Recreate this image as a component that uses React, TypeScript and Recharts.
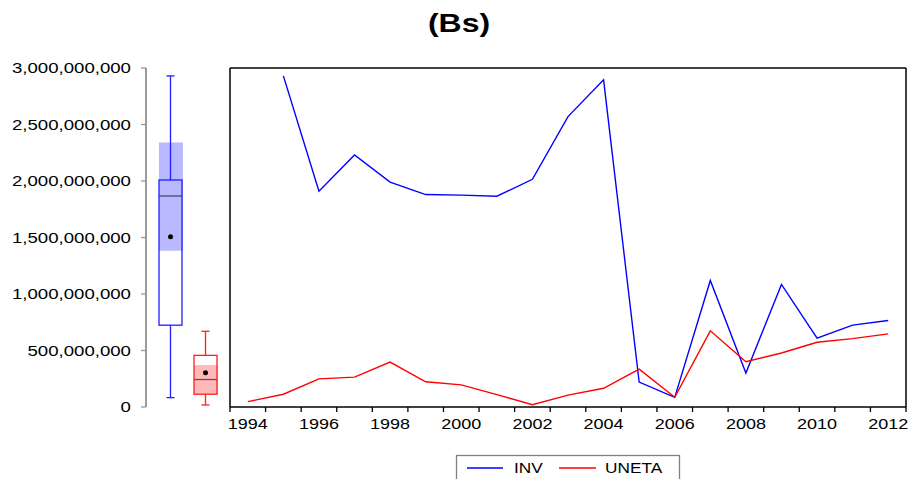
import { ComposedChart, LineChart, Line, Bar, XAxis, YAxis } from 'recharts';

// series (Bs)
const years = [1994, 1995, 1996, 1997, 1998, 1999, 2000, 2001, 2002, 2003, 2004, 2005, 2006, 2007, 2008, 2009, 2010, 2011, 2012];
const inv = [null, 2.93e9, 1.91e9, 2.23e9, 1.99e9, 1.88e9, 1.875e9, 1.865e9, 2.015e9, 2.57e9, 2.895e9, 0.22e9, 0.085e9, 1.12e9, 0.3e9, 1.085e9, 0.61e9, 0.725e9, 0.765e9];
const uneta = [0.047e9, 0.113e9, 0.249e9, 0.264e9, 0.398e9, 0.223e9, 0.196e9, 0.11e9, 0.02e9, 0.105e9, 0.166e9, 0.335e9, 0.086e9, 0.674e9, 0.401e9, 0.478e9, 0.573e9, 0.605e9, 0.647e9];

// box plot stats
const boxNames = ['INV', 'UNETA'];
const boxMin = [0.083e9, 0.018e9];
const boxQ1 = [0.724e9, 0.113e9];
const boxMedian = [1.867e9, 0.243e9];
const boxQ3 = [2.009e9, 0.457e9];
const boxMax = [2.93e9, 0.67e9];
const boxMean = [1.507e9, 0.303e9];
const ciLow = [1.383e9, 0.113e9];
const ciHigh = [2.341e9, 0.371e9];

const yTicks = [0, 5e8, 1e9, 1.5e9, 2e9, 2.5e9, 3e9];

const FONT = '"Liberation Sans", Arial, sans-serif';
const PLOT_LEFT = 230;
const PLOT_RIGHT = 906;
const BAND = (PLOT_RIGHT - PLOT_LEFT) / years.length;

const lineData = years.map((y, i) => ({ year: y, INV: inv[i], UNETA: uneta[i] }));
const boxData = boxNames.map((name, i) => ({
  name,
  range: [boxMin[i], boxMax[i]],
  q1: boxQ1[i],
  median: boxMedian[i],
  q3: boxQ3[i],
  mean: boxMean[i],
  ciLow: ciLow[i],
  ciHigh: ciHigh[i],
}));
const xTicks = [...years.map((y) => y - 0.5), years[years.length - 1] + 0.5];

const boxStyle: Record<string, { stroke: string; shade: string; median: string }> = {
  INV: { stroke: '#1f1fff', shade: '#b9b9ff', median: '#4a4a66' },
  UNETA: { stroke: '#ff2020', shade: '#ffb9b9', median: '#7a4848' },
};

function BoxShape(props: any) {
  const { x, width, y, height, payload } = props;
  const [lo, hi] = payload.range;
  const py = (v: number) => y + (height * (hi - v)) / (hi - lo);
  const c = x + width / 2;
  const st = boxStyle[payload.name];
  return (
    <g>
      <rect x={x} y={py(payload.q3)} width={width} height={py(payload.q1) - py(payload.q3)} fill="#fff" />
      <rect x={x} y={py(payload.ciHigh)} width={width + 1} height={py(payload.ciLow) - py(payload.ciHigh)} fill={st.shade} />
      <line x1={c} x2={c} y1={py(hi)} y2={py(payload.q3)} stroke={st.stroke} strokeWidth={1.3} />
      <line x1={c} x2={c} y1={py(payload.q1)} y2={py(lo)} stroke={st.stroke} strokeWidth={1.3} />
      <line x1={c - 4} x2={c + 4} y1={py(hi)} y2={py(hi)} stroke={st.stroke} strokeWidth={1.3} />
      <line x1={c - 4} x2={c + 4} y1={py(lo)} y2={py(lo)} stroke={st.stroke} strokeWidth={1.3} />
      <rect x={x} y={py(payload.q3)} width={width} height={py(payload.q1) - py(payload.q3)} fill="none" stroke={st.stroke} strokeWidth={1.3} />
      <line x1={x} x2={x + width} y1={py(payload.median)} y2={py(payload.median)} stroke={st.median} strokeWidth={1.3} />
      <circle cx={c} cy={py(payload.mean)} r={2.5} fill="#000" />
    </g>
  );
}

function YTick({ x, y, payload }: any) {
  const tx = x - 10;
  return (
    <text x={tx} y={y} dy="0.36em" textAnchor="end" fontSize={14} fontFamily={FONT} fill="#000"
      transform={`translate(${tx} 0) scale(1.33 1) translate(${-tx} 0)`}>
      {payload.value.toLocaleString('en-US')}
    </text>
  );
}

function XTick({ x, y, payload }: any) {
  const yr = payload.value + 0.5;
  if (yr % 2 !== 0 || yr > years[years.length - 1]) return <g />;
  const cx = x + BAND / 2;
  return (
    <text x={cx} y={y + 17} textAnchor="middle" fontSize={15} fontFamily={FONT} fill="#000"
      transform={`translate(${cx} 0) scale(1.2 1) translate(${-cx} 0)`}>
      {yr}
    </text>
  );
}

export default function App() {
  return (
    <div style={{ position: 'absolute', left: 0, top: 0, width: 911, height: 479, overflow: 'hidden', background: '#fff' }}>
      <div style={{ position: 'absolute', left: 0, top: 0 }}>
        <ComposedChart width={PLOT_LEFT} height={479} data={boxData} margin={{ top: 68, right: 0, bottom: 72, left: 0 }} barSize={23}>
          <XAxis dataKey="name" type="category" hide padding={{ left: 7, right: 7 }} />
          <YAxis
            domain={[0, 3e9]}
            ticks={yTicks}
            width={146}
            interval={0}
            tickSize={5}
            tickMargin={0}
            axisLine={{ stroke: '#9a9a9a', strokeWidth: 2 }}
            tickLine={{ stroke: '#9a9a9a', strokeWidth: 1.3 }}
            tick={<YTick />}
          />
          <Bar dataKey="range" shape={<BoxShape />} isAnimationActive={false} />
        </ComposedChart>
      </div>
      <div style={{ position: 'absolute', left: 0, top: 0 }}>
        <LineChart width={911} height={479} data={lineData} margin={{ top: 67, right: 911 - PLOT_RIGHT - 1, bottom: 0, left: PLOT_LEFT - 1 }}>
          <XAxis
            dataKey="year"
            type="number"
            domain={[xTicks[0], xTicks[xTicks.length - 1]]}
            ticks={xTicks}
            interval={0}
            height={72}
            tickSize={5}
            tickMargin={0}
            axisLine={{ stroke: '#000', strokeWidth: 1.5 }}
            tickLine={{ stroke: '#000', strokeWidth: 1.3 }}
            tick={<XTick />}
          />
          <XAxis xAxisId="top" orientation="top" dataKey="year" type="number" domain={[xTicks[0], xTicks[xTicks.length - 1]]}
            height={1} tick={false} tickLine={false} axisLine={{ stroke: '#000', strokeWidth: 1.5 }} />
          <YAxis yAxisId="left" domain={[0, 3e9]} width={1} tick={false} tickLine={false} axisLine={{ stroke: '#000', strokeWidth: 1.5 }} />
          <YAxis yAxisId="right" orientation="right" domain={[0, 3e9]} width={1} tick={false} tickLine={false} axisLine={{ stroke: '#000', strokeWidth: 1.5 }} />
          <Line yAxisId="left" type="linear" dataKey="INV" stroke="#0000ff" strokeWidth={1.4} dot={false} isAnimationActive={false} />
          <Line yAxisId="left" type="linear" dataKey="UNETA" stroke="#ff0000" strokeWidth={1.4} dot={false} isAnimationActive={false} />
        </LineChart>
      </div>
      <svg width={911} height={479} style={{ position: 'absolute', left: 0, top: 0, pointerEvents: 'none' }}>
        <text x={459} y={32} textAnchor="middle" fontSize={26} fontWeight="bold" fontFamily={FONT}
          transform="translate(459 0) scale(1.23 1) translate(-459 0)">
          (Bs)
        </text>
        <rect x={456.5} y={455.5} width={223} height={40} fill="#fff" stroke="#808080" strokeWidth={1.3} />
        <line x1={467} x2={503} y1={468} y2={468} stroke="#0000ff" strokeWidth={1.4} />
        <text x={514} y={473} fontSize={15} fontFamily={FONT} transform="translate(514 0) scale(1.15 1) translate(-514 0)">INV</text>
        <line x1={559} x2={596} y1={468} y2={468} stroke="#ff0000" strokeWidth={1.4} />
        <text x={605} y={473} fontSize={15} fontFamily={FONT} transform="translate(605 0) scale(1.15 1) translate(-605 0)">UNETA</text>
      </svg>
    </div>
  );
}
